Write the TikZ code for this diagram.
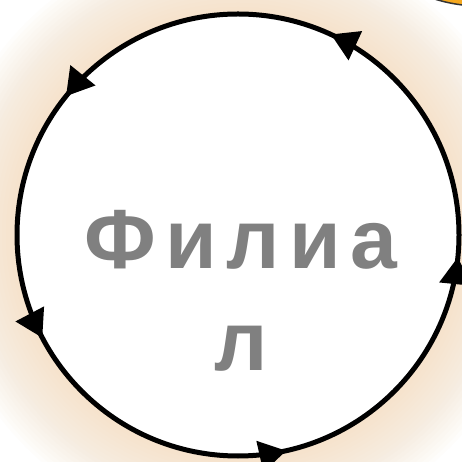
\documentclass[tikz,border=0pt]{standalone}
\usepackage{fontspec}
\setmainfont{Liberation Sans}
\usetikzlibrary{decorations.markings,arrows.meta}
\definecolor{glowc}{RGB}{246,212,172}
\definecolor{txtgray}{RGB}{128,128,128}
\definecolor{blobc}{RGB}{245,168,30}
\tikzset{
  ringarrow/.style={line width=5pt, draw=black,
    postaction={decorate},
    decoration={markings,
      mark=at position 0.181 with {\arrow{Triangle[length=27pt,width=31pt]}},
      mark=at position 0.392 with {\arrow{Triangle[length=27pt,width=31pt]}},
      mark=at position 0.577 with {\arrow{Triangle[length=27pt,width=31pt]}},
      mark=at position 0.785 with {\arrow{Triangle[length=27pt,width=31pt]}},
      mark=at position 0.984 with {\arrow{Triangle[length=27pt,width=31pt]}}}},
  labeltext/.style={text=txtgray, align=center,
    font=\fontsize{84}{102}\selectfont\bfseries\addfontfeatures{LetterSpace=11}},
  blob/.style={draw=black!80, line width=1.5pt, fill=blobc}
}
\begin{document}
\begin{tikzpicture}[x=1pt,y=1pt]
\useasboundingbox (0,0) rectangle (462,462);
\fill[white] (0,0) rectangle (462,462);
\begin{scope}
\clip (0,0) rectangle (462,462);
\foreach \r in {300,296,...,222} {\fill[glowc, opacity=0.04] (238,227) circle (\r);}
\draw[blob] (480,606) circle (150);
\end{scope}
\node[circle, fill=white, minimum size=442pt, inner sep=0pt] (ring) at (238,227) {};
\draw[ringarrow] (ring.center) circle (221);
\node[labeltext] (label) at (241,171.5) {Филиа\\л};
\end{tikzpicture}
\end{document}
